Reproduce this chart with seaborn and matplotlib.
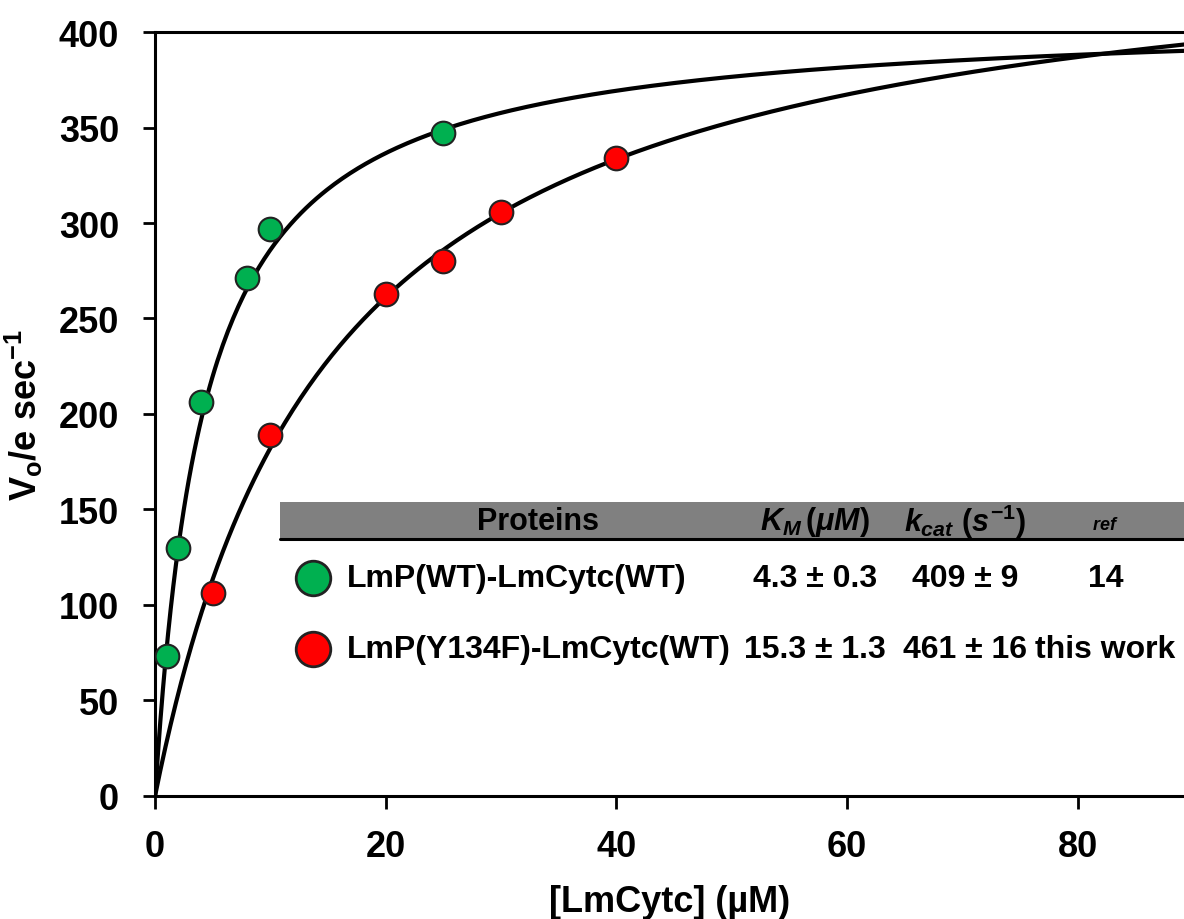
import numpy as np
import pandas as pd
import matplotlib
matplotlib.use('Agg')
import matplotlib.pyplot as plt
import seaborn as sns

wt_conc = [1, 2, 4, 8, 10, 25]
wt_rate = [73, 130, 206, 271, 297, 347]
mut_conc = [5, 10, 20, 25, 30, 40]
mut_rate = [106, 189, 263, 280, 306, 334]

# Michaelis-Menten fit parameters (from the inset table)
proteins = ['LmP(WT)-LmCytc(WT)', 'LmP(Y134F)-LmCytc(WT)']
km = [4.3, 15.3]
kcat = [409, 461]
km_txt = ['4.3 ± 0.3', '15.3 ± 1.3']
kcat_txt = ['409 ± 9', '461 ± 16']
refs = ['14', 'this work']
colors = ['#00b050', '#ff0000']

sns.set_style('ticks')
plt.rcParams['font.family'] = ['Liberation Sans', 'DejaVu Sans']
plt.rcParams['font.weight'] = 'bold'
plt.rcParams['text.color'] = 'black'
plt.rcParams['axes.labelcolor'] = 'black'
plt.rcParams['axes.edgecolor'] = 'black'
plt.rcParams['xtick.color'] = 'black'
plt.rcParams['ytick.color'] = 'black'
plt.rcParams['mathtext.fontset'] = 'custom'
plt.rcParams['mathtext.rm'] = 'Liberation Sans:bold'
plt.rcParams['mathtext.it'] = 'Liberation Sans:bold:italic'
plt.rcParams['mathtext.bf'] = 'Liberation Sans:bold'

fig = plt.figure(figsize=(11.84, 9.2), dpi=100)
ax = fig.add_axes([0.131, 0.134, 0.869, 0.830])

xs = np.linspace(0, 90, 400)
for k, v in zip(km, kcat):
    fit = pd.DataFrame({'x': xs, 'y': v * xs / (k + xs)})
    sns.lineplot(data=fit, x='x', y='y', color='black', lw=3.0, ax=ax, zorder=2)

sns.scatterplot(x=wt_conc, y=wt_rate, color=colors[0], s=290, edgecolor='#222222',
                linewidth=1.5, ax=ax, zorder=3)
sns.scatterplot(x=mut_conc, y=mut_rate, color=colors[1], s=290, edgecolor='#222222',
                linewidth=1.5, ax=ax, zorder=3)

ax.set_xlim(0, 89.2)
ax.set_ylim(0, 400)
ax.set_xticks([0, 20, 40, 60, 80])
ax.set_yticks(range(0, 401, 50))
ax.tick_params(direction='out', length=9, width=2, labelsize=26)
ax.tick_params(axis='y', pad=17)
ax.tick_params(axis='x', pad=15)
for lab in ax.get_xticklabels() + ax.get_yticklabels():
    lab.set_fontweight('bold')
ax.spines['right'].set_visible(False)
for s in ['left', 'bottom', 'top']:
    ax.spines[s].set_linewidth(2.2)

ax.set_xlabel('[LmCytc] (µM)', fontsize=26, fontweight='bold')
ax.set_ylabel(r'V$_\mathrm{o}$/e sec$^{-1}$', fontsize=26, fontweight='bold')
ax.xaxis.set_label_coords(0.5, -0.115)
ax.yaxis.set_label_coords(-0.107, 0.5)

# inset table
ax.fill_between([10.84, 89.2], 134.6, 153.9, color='#808080', zorder=1, lw=0)
ax.plot([10.84, 89.2], [134.3, 134.3], color='black', lw=2.2, zorder=1)
ax.text(33.2, 144, 'Proteins', fontsize=22, fontweight='bold', ha='center', va='center')
ax.text(57.2, 144, r'$K_M\,(\mu M)$', fontsize=22, ha='center', va='center')
ax.text(70.2, 144, r'$k_{cat}\ (s^{-1})$', fontsize=22, ha='center', va='center')
ax.text(82.4, 142, r'$ref$', fontsize=13, ha='center', va='center')

row_y = [114, 77]
for i in range(2):
    ax.scatter([13.7], [row_y[i]], s=620, color=colors[i], edgecolor='#222222',
               linewidth=2, zorder=3, clip_on=False)
    ax.text(16.6, row_y[i], proteins[i], fontsize=23, fontweight='bold', ha='left', va='center')
    ax.text(57.2, row_y[i], km_txt[i], fontsize=23, fontweight='bold', ha='center', va='center')
    ax.text(70.2, row_y[i], kcat_txt[i], fontsize=23, fontweight='bold', ha='center', va='center')
    ax.text(82.4, row_y[i], refs[i], fontsize=23, fontweight='bold', ha='center', va='center')

fig.savefig('out.png', dpi=100)
